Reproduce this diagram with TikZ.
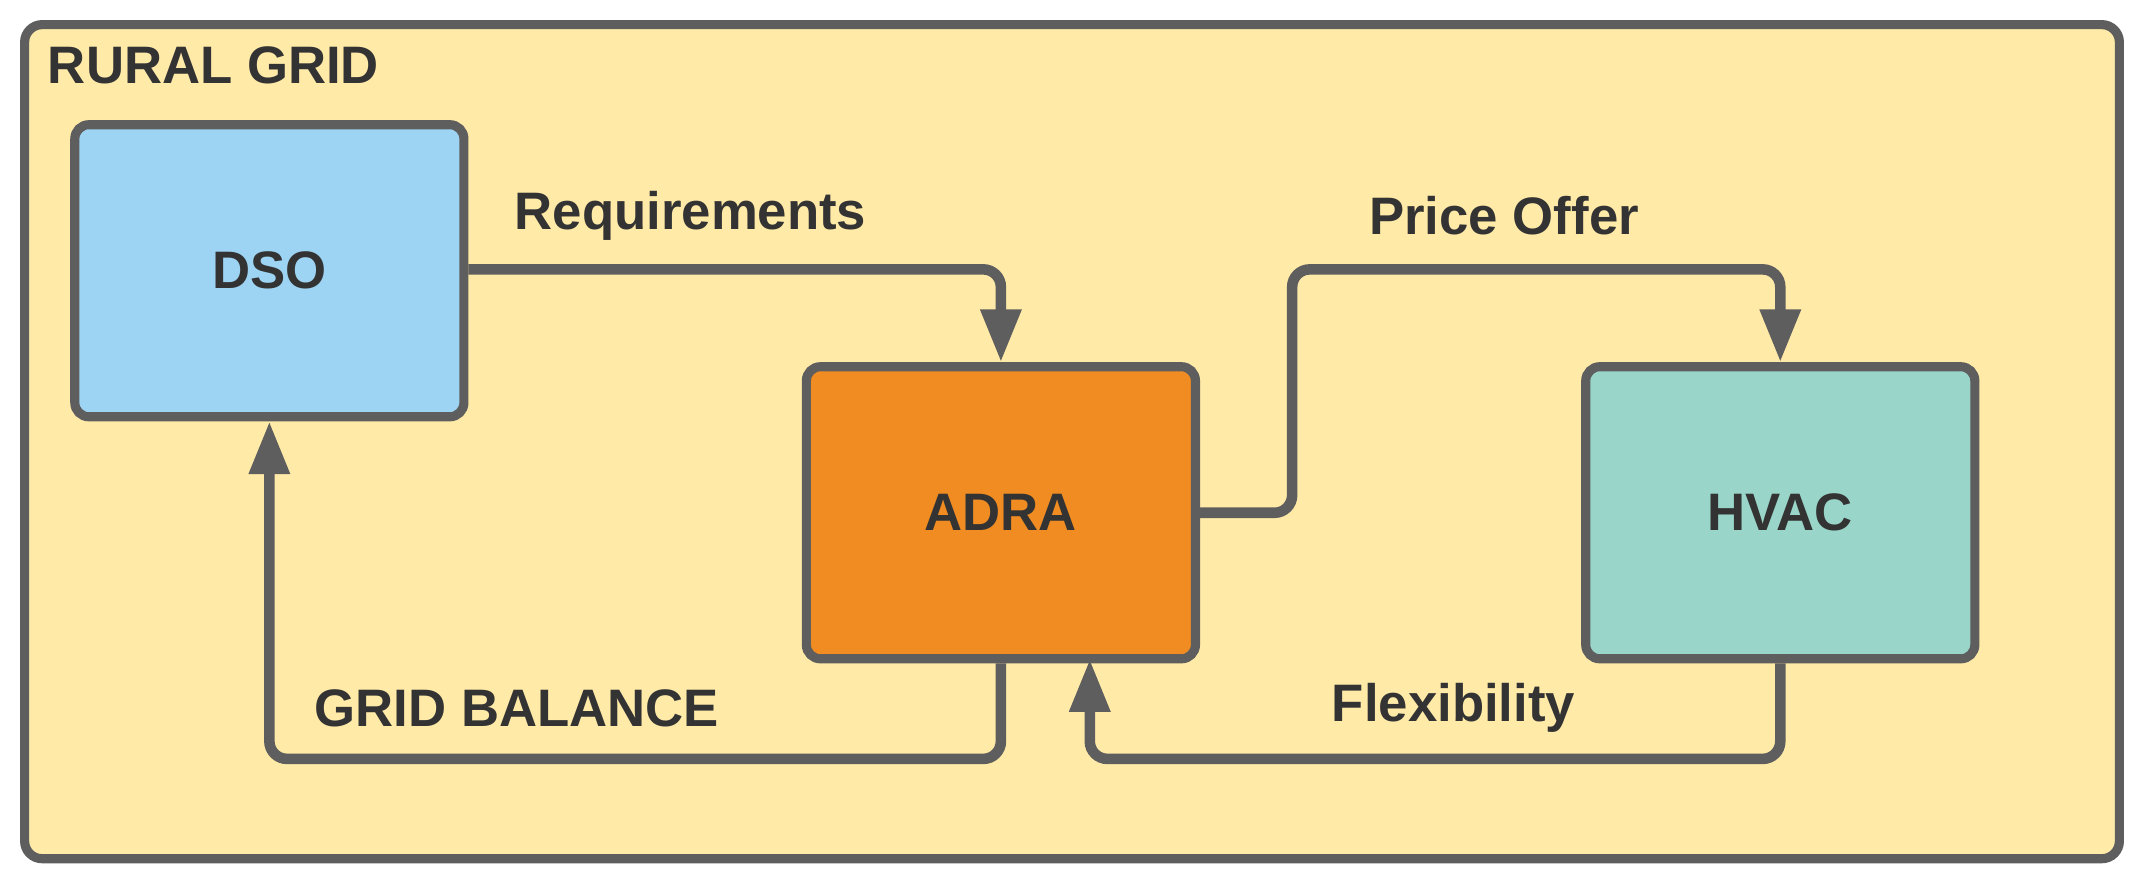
\documentclass[tikz,border=0pt]{standalone}
\usepackage{fontspec}
\setmainfont{Liberation Sans}
\usetikzlibrary{arrows.meta,positioning}
\definecolor{gridfill}{HTML}{FFEAA8}
\definecolor{edgegray}{HTML}{5E5E5E}
\definecolor{dsofill}{HTML}{9DD3F3}
\definecolor{adrafill}{HTML}{F08C22}
\definecolor{hvacfill}{HTML}{99D5C9}
\begin{document}
\begin{tikzpicture}[x=0.1367mm, y=-0.1367mm,
    every node/.style={font=\fontsize{15}{17}\selectfont\bfseries, text=black!80},
    block/.style={draw=edgegray, line width=2.6pt, rounded corners=4pt, minimum width=38.9mm, minimum height=29.2mm},
    flow/.style={draw=edgegray, line width=3pt, rounded corners=5pt, -{Triangle[length=15pt,width=11pt]}}]
    % background
    \useasboundingbox (0,0) rectangle (1568,647);
    \draw[fill=gridfill, draw=edgegray, line width=2.6pt, rounded corners=5pt] (18,18) rectangle (1550,628);
    \node[anchor=west] (rural) at (26,48) {RURAL GRID};

    % blocks
    \node[block, fill=dsofill] (dso) at (197,198) {DSO};
    \node[block, fill=adrafill] (adra) at (732,375) {ADRA};
    \node[block, fill=hvacfill] (hvac) at (1302,375) {HVAC};
    \coordinate (flexend) at (797,482);

    % connectors
    \draw[flow] (dso.east |- 0,197) -| (adra.north);
    \draw[flow] (adra.east) -- (945,375) |- (1100,197) -| (hvac.north);
    \draw[flow] (adra.south) |- (400,555) -| (dso.south);
    \draw[flow] (hvac.south) |- (1000,555) -| (flexend);

    % labels
    \node (req) at (505,158) {Requirements};
    \node (price) at (1100,158) {Price Offer};
    \node (bal) at (378,518) {GRID BALANCE};
    \node (flex) at (1063,518) {Flexibility};
\end{tikzpicture}
\end{document}
